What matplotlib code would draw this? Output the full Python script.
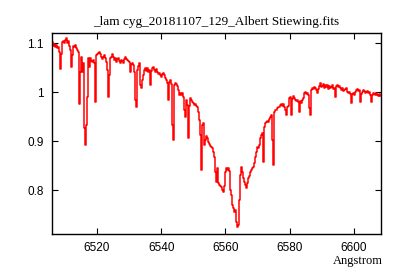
import numpy as np
import matplotlib
matplotlib.use("Agg")
import matplotlib.pyplot as plt

# spectrum header (start wavelength and step, as in the fits file)
crval1 = 6506.0
cdelt1 = 0.311

flux = [
    1.098, 1.102, 1.094, 1.098, 1.092, 1.096, 1.090, 1.092, 1.082, 1.047,
    1.078, 1.102, 1.104, 1.100, 1.106, 1.110, 1.100, 1.104, 1.094, 1.086,
    1.051, 1.076, 1.094, 1.092, 1.096, 1.090, 1.086, 1.082, 0.976, 1.041,
    1.073, 1.041, 1.059, 0.927, 0.892, 0.933, 0.990, 1.069, 1.051, 1.069,
    1.063, 1.061, 1.065, 1.059, 0.980, 1.076, 1.078, 1.080, 1.082, 1.078,
    1.073, 1.067, 1.073, 1.076, 1.069, 1.061, 1.045, 0.990, 1.035, 1.069,
    1.073, 1.078, 1.071, 1.065, 1.069, 1.061, 1.067, 1.069, 1.063, 1.059,
    1.065, 1.063, 1.059, 1.067, 1.071, 1.067, 1.065, 1.063, 1.061, 1.041,
    1.057, 1.059, 1.055, 1.041, 0.984, 0.969, 1.045, 1.053, 1.059, 1.014,
    1.008, 1.024, 1.035, 1.045, 1.049, 1.043, 1.049, 1.041, 1.045, 1.014,
    1.043, 1.049, 1.051, 1.045, 1.041, 1.047, 1.041, 1.037, 1.039, 1.035,
    1.031, 1.037, 1.039, 1.035, 1.029, 1.024, 1.018, 0.984, 1.020, 1.024,
    1.016, 0.933, 0.902, 1.014, 1.018, 1.016, 1.012, 1.004, 0.994, 0.998,
    0.994, 0.998, 0.990, 0.963, 0.949, 0.984, 0.973, 0.906, 0.971, 0.988,
    0.984, 0.980, 0.978, 0.973, 0.976, 0.971, 0.969, 0.959, 0.943, 0.912,
    0.841, 0.933, 0.937, 0.892, 0.902, 0.910, 0.906, 0.898, 0.894, 0.890,
    0.888, 0.886, 0.878, 0.867, 0.837, 0.816, 0.845, 0.814, 0.810, 0.808,
    0.806, 0.800, 0.796, 0.808, 0.837, 0.845, 0.841, 0.845, 0.839, 0.800,
    0.790, 0.769, 0.763, 0.755, 0.759, 0.735, 0.724, 0.729, 0.780, 0.831,
    0.847, 0.837, 0.824, 0.816, 0.810, 0.804, 0.814, 0.824, 0.829, 0.837,
    0.841, 0.845, 0.847, 0.855, 0.867, 0.878, 0.888, 0.886, 0.892, 0.906,
    0.912, 0.916, 0.857, 0.929, 0.937, 0.939, 0.941, 0.939, 0.945, 0.949,
    0.953, 0.902, 0.851, 0.959, 0.963, 0.963, 0.967, 0.969, 0.969, 0.973,
    0.976, 0.971, 0.976, 0.969, 0.963, 0.953, 0.969, 0.971, 0.988, 0.990,
    0.953, 0.986, 0.992, 0.988, 0.984, 0.982, 0.984, 0.980, 0.959, 0.982,
    0.978, 0.984, 0.988, 0.998, 1.000, 0.996, 0.998, 0.994, 0.967, 0.953,
    1.004, 1.008, 1.006, 1.010, 1.008, 1.004, 0.998, 1.006, 1.012, 1.018,
    1.010, 1.012, 1.016, 1.008, 1.014, 1.010, 1.014, 1.006, 1.012, 1.008,
    1.010, 1.014, 1.006, 1.008, 0.990, 1.012, 1.014, 1.010, 1.012, 1.008,
    1.004, 1.008, 1.002, 1.004, 1.006, 1.008, 1.000, 0.998, 1.000, 0.996,
    0.978, 0.996, 0.998, 0.994, 1.000, 1.004, 1.006, 1.002, 1.004, 0.980,
    0.996, 1.000, 1.004, 1.002, 0.998, 1.000, 1.002, 0.998, 1.000, 0.994,
    0.980, 0.994, 0.998, 0.996, 0.994, 0.998, 0.994, 0.992, 0.996, 0.992,
]
wave = crval1 + cdelt1 * np.arange(len(flux))

xticks = [6520, 6540, 6560, 6580, 6600]
yticks = [0.8, 0.9, 1.0, 1.1]
yticklabels = ["0.8", "0.9", "1", "1.1"]

fig = plt.figure(figsize=(4, 2.8), dpi=100)
ax = fig.add_axes([0.13, 0.164, 0.8225, 0.718])
ax.plot(wave, flux, color="red", lw=1.1, drawstyle="steps-mid")

ax.set_xlim(6506, 6608.4)
ax.set_ylim(0.71, 1.121)
ax.set_xticks(xticks)
ax.set_yticks(yticks)
ax.set_yticklabels(yticklabels)
ax.tick_params(direction="in", length=4, width=0.8, top=True, right=True,
               labelsize=8.5, pad=6)
for lab in ax.get_xticklabels() + ax.get_yticklabels():
    lab.set_fontfamily("Liberation Sans")
for s in ax.spines.values():
    s.set_linewidth(1.0)

ax.set_title("_lam cyg_20181107_129_Albert Stiewing.fits",
             fontfamily="Liberation Serif", fontsize=9.5, pad=6)
fig.text(0.958, 0.045, "Angstrom", ha="right", va="bottom",
         fontfamily="Liberation Serif", fontsize=9)

fig.savefig("out.png", dpi=100)
